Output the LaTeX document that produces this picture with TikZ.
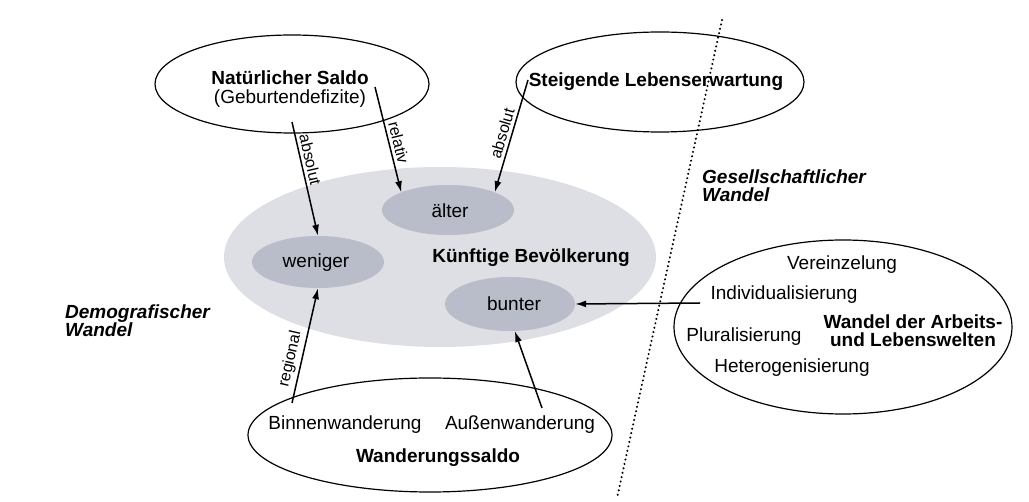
\documentclass[tikz,border=0pt]{standalone}
\usepackage{fontspec}
\setmainfont{Liberation Sans}
\usetikzlibrary{shapes.geometric,arrows.meta,calc}
\definecolor{bigfill}{RGB}{222,223,229}
\definecolor{blobfill}{RGB}{185,188,201}
\begin{document}
\begin{tikzpicture}[x=1pt,y=-1pt,
 every node/.style={font=\fontsize{19}{21}\selectfont, inner sep=0pt},
 oval/.style={ellipse, draw, line width=1.2pt, inner sep=0pt},
 cloudy/.style={ellipse, fill=bigfill, inner sep=0pt},
 blob/.style={ellipse, fill=blobfill, inner sep=0pt},
 arr/.style={line width=1.5pt, -{Latex[length=11pt,width=7pt]}},
 lbl/.style={font=\fontsize{16}{18}\selectfont, sloped, above=3pt},
 bt/.style={font=\fontsize{19}{21}\selectfont\bfseries},
 bi/.style={font=\fontsize{19}{18}\selectfont\bfseries\itshape, align=left, anchor=west},
 sep/.style={line width=2.2pt, line cap=round, dash pattern=on 0.1pt off 4.4pt}
]
\useasboundingbox (0,0) rectangle (1029,502);

% separator
\coordinate (d1) at (722,20);
\coordinate (d2) at (617,498);
\draw[sep] (d1) -- (d2);

% future population
\node[cloudy, minimum width=432pt, minimum height=180pt] (pop) at (440,257) {};
\node[blob, minimum width=132pt, minimum height=50pt] (alter) at (448,210) {};
\node[blob, minimum width=132pt, minimum height=52pt] (weniger) at (318,262) {};
\node[blob, minimum width=130pt, minimum height=54pt] (bunter) at (510,304) {};
\node (talter) at (450,211) {älter};
\node (tweniger) at (316,263) {weniger};
\node (tbunter) at (514,304) {bunter};
\node[bt] (tpop) at (531,258) {Künftige Bevölkerung};

% natural balance
\node[oval, minimum width=274pt, minimum height=98pt] (ns) at (292,84) {};
\node[bt] (nst) at (290,78) {Natürlicher Saldo};
\node (gd) at (290,99) {(Geburtendefizite)};

% life expectancy
\node[oval, minimum width=288pt, minimum height=100pt] (le) at (660,82) {};
\node[bt] (let) at (656,82) {Steigende Lebenserwartung};

% migration
\node[oval, minimum width=364pt, minimum height=114pt] (ws) at (430,435) {};
\node (binnen) at (345,425) {Binnenwanderung};
\node (aussen) at (520,425) {Außenwanderung};
\node[bt] (wst) at (438,458) {Wanderungssaldo};

% social change
\node[oval, minimum width=338pt, minimum height=174pt] (sw) at (843,327) {};
\node (ver) at (842,265) {Vereinzelung};
\node (ind) at (784,295) {Individualisierung};
\node (plu) at (744,337) {Pluralisierung};
\node (het) at (792,368) {Heterogenisierung};
\node[bt, align=center, font=\fontsize{19}{18}\selectfont\bfseries] (wal) at (913,331) {Wandel der Arbeits-\\und Lebenswelten};

% region labels
\node[bi] (gw) at (702,186) {Gesellschaftlicher\\Wandel};
\node[bi] (dw) at (65,321) {Demografischer\\Wandel};

% arrows
\coordinate (a1s) at (292,122);
\coordinate (a2s) at (375,87);
\coordinate (a3s) at (528,80);
\coordinate (a4s) at (292,403);
\coordinate (a5s) at (542,408);
\coordinate (a6s) at (700,303);
\draw[arr] (a1s) -- node[lbl, pos=0.35] {absolut} (weniger.north);
\draw[arr] (a2s) -- node[lbl, pos=0.55] {relativ} (alter.north west);
\draw[arr] (a3s) -- node[lbl, pos=0.5] {absolut} (alter.north east);
\draw[arr] (a4s) -- node[lbl, pos=0.36] {regional} (weniger.south);
\draw[arr] (a5s) -- (bunter.-80);
\draw[arr] (a6s) -- (bunter.east);
\end{tikzpicture}
\end{document}
